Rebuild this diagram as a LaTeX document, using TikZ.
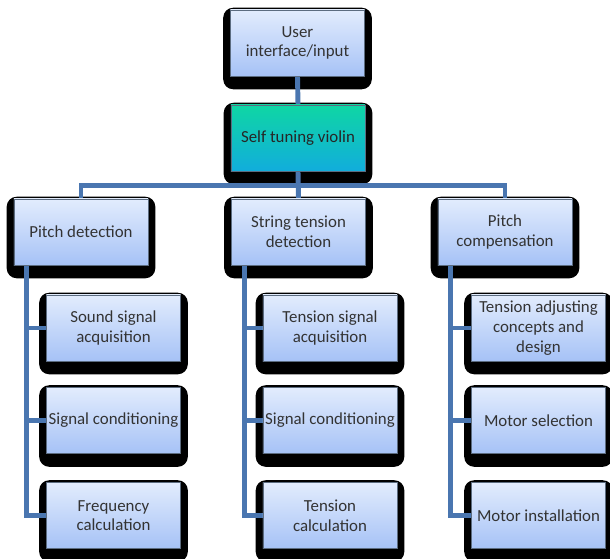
\documentclass[tikz,border=0pt]{standalone}
\usepackage{fontspec}
\setmainfont{Carlito}
\usepackage{tikz}
\usetikzlibrary{calc,backgrounds}
\definecolor{linkblue}{HTML}{4A76B0}
\definecolor{boxtop}{HTML}{E2ECFD}
\definecolor{boxbot}{HTML}{A6C2F6}
\definecolor{tealtop}{HTML}{0FD6A4}
\definecolor{tealbot}{HTML}{11ADDC}
\definecolor{boxedge}{HTML}{5C6C80}
\definecolor{txt}{HTML}{333333}

\begin{document}
\begin{tikzpicture}[x=0.025cm, y=-0.025cm,
		blockbox/.style={draw=boxedge, line width=0.4pt, top color=boxtop, bottom color=boxbot, minimum width=3.35cm, minimum height=1.65cm, inner sep=0pt, align=center, text=txt, font=\fontsize{12}{14}\selectfont},
		rootbox/.style={blockbox, top color=tealtop, bottom color=tealbot, text=black!85},
		link/.style={draw=linkblue, line width=3.5pt},
		shade box/.style={fill=black, rounded corners=0.25cm}]
		\useasboundingbox (0,0) rectangle (610,558);

		\node[blockbox] (ui) at (297.5,43) {User\\interface/input};
		\node[rootbox] (stv) at (298,138) {Self tuning violin};

		\node[blockbox] (pd) at (81,232) {Pitch detection};
		\node[blockbox] (std) at (298.5,232) {String tension\\detection};
		\node[blockbox] (pc) at (505,232) {Pitch\\compensation};

		\node[blockbox] (ssa) at (113.5,328) {Sound signal\\acquisition};
		\node[blockbox] (sca) at (113.5,420.5) {Signal conditioning};
		\node[blockbox] (fc) at (113.5,515.5) {Frequency\\calculation};

		\node[blockbox] (tsa) at (330,328) {Tension signal\\acquisition};
		\node[blockbox] (scb) at (330,420.5) {Signal conditioning};
		\node[blockbox] (tc) at (330,515.5) {Tension\\calculation};

		\node[blockbox] (tad) at (538.5,328) {Tension adjusting\\concepts and\\design};
		\node[blockbox] (ms) at (538.5,420.5) {Motor selection};
		\node[blockbox] (mi) at (538.5,515.5) {Motor installation};

		\coordinate (bus) at (0,185.5);
		\coordinate (pdt) at ($(pd.south west)+(13,0)$);
		\coordinate (stdt) at ($(std.south west)+(13,0)$);
		\coordinate (pct) at ($(pc.south west)+(13,0)$);

		\begin{pgfonlayer}{background}
			\foreach \n in {ui,stv,pd,std,pc,ssa,sca,fc,tsa,scb,tc,tad,ms,mi}
				\path[shade box] ($(\n.north west)+(-7,-2)$) rectangle ($(\n.south east)+(7,13)$);

			\draw[link] (ui.south) -- (stv.north);
			\draw[link] (stv.south) -- (std.north);
			\draw[link] (pd.north) -- (pd.north |- bus) -- (pc.north |- bus) -- (pc.north);

			\draw[link] (pdt) |- (fc.west);
			\draw[link] (pdt |- ssa.west) -- (ssa.west);
			\draw[link] (pdt |- sca.west) -- (sca.west);

			\draw[link] (stdt) |- (tc.west);
			\draw[link] (stdt |- tsa.west) -- (tsa.west);
			\draw[link] (stdt |- scb.west) -- (scb.west);

			\draw[link] (pct) |- (mi.west);
			\draw[link] (pct |- tad.west) -- (tad.west);
			\draw[link] (pct |- ms.west) -- (ms.west);
		\end{pgfonlayer}
	\end{tikzpicture}
\end{document}
